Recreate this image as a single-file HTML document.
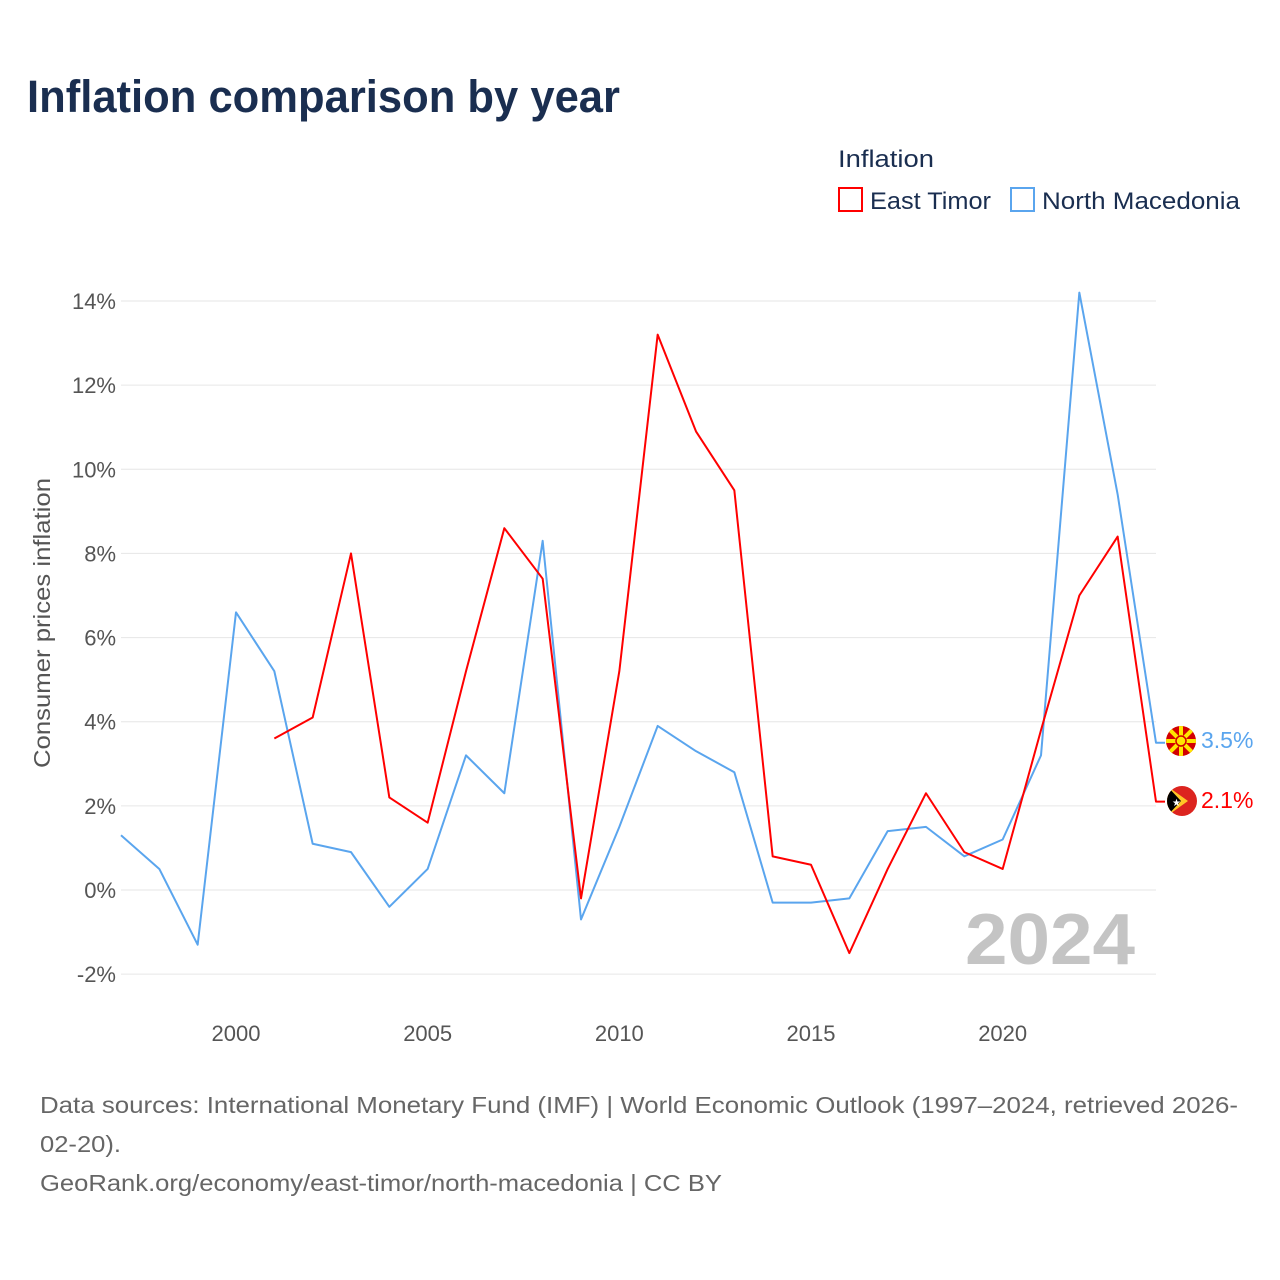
<!DOCTYPE html>
<html><head><meta charset="utf-8"><style>
body{margin:0;background:#fff;font-family:"Liberation Sans",sans-serif;}
#wrap{position:relative;width:1280px;height:1280px;overflow:hidden}
</style></head><body>
<div id="wrap">
<svg id="chart" width="1280" height="1280" style="position:absolute;left:0;top:0">
<text x="27" y="112" font-size="45" font-weight="bold" fill="#1a2e50" textLength="593" lengthAdjust="spacingAndGlyphs">Inflation comparison by year</text>
<text x="838" y="167" font-size="24" fill="#1a2e50" textLength="96" lengthAdjust="spacingAndGlyphs">Inflation</text>
<g><rect x="839" y="188" width="23" height="23" fill="none" stroke="#f00" stroke-width="2"/><text x="870" y="209" font-size="24" fill="#1a2e50" textLength="121" lengthAdjust="spacingAndGlyphs">East Timor</text></g>
<g><rect x="1011" y="188" width="23" height="23" fill="none" stroke="#5aa5ee" stroke-width="2"/><text x="1042" y="209" font-size="24" fill="#1a2e50" textLength="198" lengthAdjust="spacingAndGlyphs">North Macedonia</text></g>
<text transform="translate(50,623) rotate(-90)" text-anchor="middle" font-size="23" fill="#555" textLength="290" lengthAdjust="spacingAndGlyphs">Consumer prices inflation</text>
<g id="grid"></g><g id="xt"></g>
<text x="965" y="964" font-size="72" font-weight="bold" fill="#c4c4c4" textLength="170" lengthAdjust="spacingAndGlyphs">2024</text>
<g id="lines"></g>
<g>
<clipPath id="c1"><circle cx="1181" cy="741" r="15"/></clipPath>
<g clip-path="url(#c1)"><rect x="1166" y="726" width="30" height="30" fill="#d20000"/>
<g stroke="#ffe600" stroke-width="4"><line x1="1166" y1="741" x2="1196" y2="741"/><line x1="1181" y1="726" x2="1181" y2="756"/><line x1="1166" y1="726" x2="1196" y2="756"/><line x1="1196" y1="726" x2="1166" y2="756"/></g>
<circle cx="1181" cy="741" r="5" fill="#ffe600" stroke="#d20000" stroke-width="1.5"/></g></g>
<g>
<clipPath id="c2"><circle cx="1182" cy="801" r="15"/></clipPath>
<g clip-path="url(#c2)"><rect x="1167" y="786" width="30" height="30" fill="#dc241f"/>
<polygon points="1167,786 1188,801 1167,816" fill="#ffc726"/><polygon points="1167,786 1181,801 1167,816" fill="#000"/>
<text x="1172" y="806" font-size="10" fill="#fff">★</text></g></g>
<text x="1201" y="748" font-size="23" fill="#5aa5ee">3.5%</text>
<text x="1201" y="808" font-size="23" fill="#f00">2.1%</text>
<text font-size="23" fill="#666"><tspan x="40" y="1113" textLength="1198" lengthAdjust="spacingAndGlyphs">Data sources: International Monetary Fund (IMF) | World Economic Outlook (1997–2024, retrieved 2026-</tspan><tspan x="40" y="1152" textLength="81" lengthAdjust="spacingAndGlyphs">02-20).</tspan><tspan x="40" y="1191" textLength="682" lengthAdjust="spacingAndGlyphs">GeoRank.org/economy/east-timor/north-macedonia | CC BY</tspan></text>
</svg></div>
<script>
const years=[1997,1998,1999,2000,2001,2002,2003,2004,2005,2006,2007,2008,2009,2010,2011,2012,2013,2014,2015,2016,2017,2018,2019,2020,2021,2022,2023,2024];
const macedonia=[1.3,0.5,-1.3,6.6,5.2,1.1,0.9,-0.4,0.5,3.2,2.3,8.3,-0.7,1.5,3.9,3.3,2.8,-0.3,-0.3,-0.2,1.4,1.5,0.8,1.2,3.2,14.2,9.4,3.5];
const timor=[null,null,null,null,3.6,4.1,8.0,2.2,1.6,5.2,8.6,7.4,-0.2,5.2,13.2,10.9,9.5,0.8,0.6,-1.5,0.5,2.3,0.9,0.5,3.8,7.0,8.4,2.1];
const yTicks=[-2,0,2,4,6,8,10,12,14];
const xTicks=[2000,2005,2010,2015,2020];
const NS='http://www.w3.org/2000/svg';
const X=y=>121+(y-1997)*(1156-121)/27;
const Y=v=>890-v*(890-301)/14;
function mk(t,a,p){const e=document.createElementNS(NS,t);for(const k in a)e.setAttribute(k,a[k]);p.appendChild(e);return e;}
const g=document.getElementById('grid');
yTicks.forEach(v=>{
 const l=mk('line',{x1:121,x2:1156,y1:Y(v),y2:Y(v),stroke:'#e6e6e6','stroke-width':1},g);
 
 
 const t=mk('text',{x:116,y:Y(v)+8,'text-anchor':'end','font-size':22,fill:'#555'},g);
 
 
 t.textContent=v+'%';
});
const xt=document.getElementById('xt');
xTicks.forEach(v=>{
 const t=mk('text',{x:X(v),y:1041,'text-anchor':'middle','font-size':22,fill:'#555'},xt);
 
 
 t.textContent=v;
});
const L=document.getElementById('lines');
function series(vals,color,name){
 let pts=[];vals.forEach((v,i)=>{if(v!==null)pts.push(X(years[i])+','+Y(v));});
 const last=vals[vals.length-1];
 pts.push((X(2024)+9)+','+Y(last));
 const p=mk('polyline',{points:pts.join(' '),fill:'none',stroke:color,'stroke-width':2,'stroke-linejoin':'round'},L);
 
 
}
series(macedonia,'#5aa5ee','line-north-macedonia');
series(timor,'#ff0000','line-east-timor');
</script>
</body></html>
